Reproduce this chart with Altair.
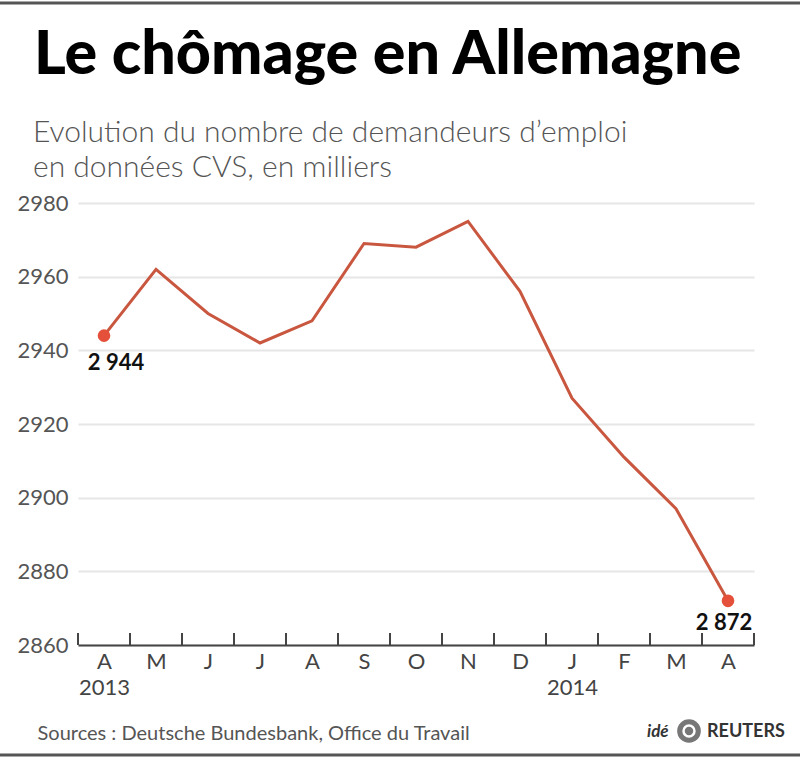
import json
import altair as alt
import pandas as pd

months = ["A", "M", "J", "J", "A", "S", "O", "N", "D", "J", "F", "M", "A"]
years = ["2013", "", "", "", "", "", "", "", "", "2014", "", "", ""]
values = [2944, 2962, 2950, 2942, 2948, 2969, 2968, 2975, 2956, 2927, 2911, 2897, 2872]
y_ticks = [2860, 2880, 2900, 2920, 2940, 2960, 2980]

title = "Le chômage en Allemagne"
subtitle = ["Evolution du nombre de demandeurs d\u2019emploi", "en données CVS, en milliers"]
source = "Sources : Deutsche Bundesbank, Office du Travail"

FONT = "Lato"
LINE = "#c9573f"
DOT = "#e4503a"

df = pd.DataFrame({"idx": list(range(len(months))), "month": months, "value": values})
df["label"] = [f"{v:,}".replace(",", " ") for v in values]
bounds = pd.DataFrame({"b": [i - 0.5 for i in range(len(months) + 1)]})

label_arr = [[m, y] if y else m for m, y in zip(months, years)]
label_expr = json.dumps(label_arr, ensure_ascii=False) + "[datum.value]"

x_scale = alt.Scale(domain=[-0.5, len(months) - 0.5], nice=False, zero=False)
x_axis = alt.Axis(
    values=list(range(len(months))), labelExpr=label_expr, ticks=False, grid=False,
    domain=True, domainColor="#444", domainWidth=2,
    labelFont=FONT, labelFontSize=22, labelColor="#444", labelPadding=6,
    labelLineHeight=26, labelFlush=False,
    title=source, titleFont=FONT, titleFontSize=20, titleFontWeight="normal",
    titleColor="#555", titleAnchor="start", titleAlign="left", titleX=-41, titleY=88,
    titleBaseline="middle",
)
y_scale = alt.Scale(domain=[2860, 2980], nice=False, zero=False)
y_axis = alt.Axis(
    values=y_ticks, format="d", domain=False, ticks=False, grid=True, gridColor="#e6e6e6",
    gridWidth=2, labelFont=FONT, labelFontSize=22, labelColor="#555",
    labelPadding=10, title=None,
)

base = alt.Chart(df)
X = alt.X("idx:Q", scale=x_scale, axis=x_axis)
Y = alt.Y("value:Q", scale=y_scale, axis=y_axis)

line = base.mark_line(color=LINE, strokeWidth=3).encode(x=X, y=Y)

last_i = len(months) - 1
dots = base.transform_filter(
    (alt.datum.idx == 0) | (alt.datum.idx == last_i)
).mark_circle(color=DOT, size=160, opacity=1).encode(x=X, y=Y)
first_lab = base.transform_filter(alt.datum.idx == 0).mark_text(
    font=FONT, fontSize=22, fontWeight="bold", color="#111", dx=12, dy=27,
    baseline="middle", align="center"
).encode(x=X, y=Y, text="label:N")
last_lab = base.transform_filter(alt.datum.idx == last_i).mark_text(
    font=FONT, fontSize=22, fontWeight="bold", color="#111", dx=-4, dy=22,
    baseline="middle", align="center"
).encode(x=X, y=Y, text="label:N")

ticks = alt.Chart(bounds).mark_rule(color="#444", strokeWidth=2).encode(
    x=alt.X("b:Q", scale=x_scale, axis=x_axis),
    y=alt.value(430), y2=alt.value(442),
)

one = pd.DataFrame({"t": [0]})
title_mark = alt.Chart(one).mark_text(
    text=title, font=FONT, fontSize=61, fontWeight=900, color="#000",
    align="left", baseline="alphabetic").encode(x=alt.value(-44), y=alt.value(-129))
sub1 = alt.Chart(one).mark_text(
    text=subtitle[0], font=FONT, fontSize=30, fontWeight=300, color="#555",
    align="left", baseline="alphabetic").encode(x=alt.value(-45), y=alt.value(-61))
sub2 = alt.Chart(one).mark_text(
    text=subtitle[1], font=FONT, fontSize=30, fontWeight=300, color="#555",
    align="left", baseline="alphabetic").encode(x=alt.value(-45), y=alt.value(-26))

top_border = alt.Chart(one).mark_rule(color="#555", strokeWidth=3).encode(
    x=alt.value(-78), x2=alt.value(722), y=alt.value(-200))
bot_border = alt.Chart(one).mark_rule(color="#555", strokeWidth=3).encode(
    x=alt.value(-78), x2=alt.value(722), y=alt.value(552))
ide = alt.Chart(one).mark_text(
    text="idé", font=FONT, fontSize=17, fontWeight="bold", fontStyle="italic",
    color="#333", align="left", baseline="middle").encode(
    x=alt.value(569), y=alt.value(529))
logo_outer = alt.Chart(one).mark_point(
    shape="circle", filled=True, color="#777", size=560, opacity=1).encode(
    x=alt.value(611), y=alt.value(528))
logo_inner = alt.Chart(one).mark_point(
    shape="circle", filled=False, color="#fff", size=120, strokeWidth=2.5, opacity=1).encode(
    x=alt.value(611), y=alt.value(528))
reuters = alt.Chart(one).mark_text(
    text="REUTERS", font=FONT, fontSize=18, fontWeight="bold",
    color="#333", align="left", baseline="middle").encode(
    x=alt.value(629), y=alt.value(529))

chart = alt.layer(
    line, ticks, dots, first_lab, last_lab, title_mark, sub1, sub2,
    top_border, bot_border, ide, logo_outer, logo_inner, reuters,
).properties(
    width=676, height=442,
    autosize=alt.AutoSizeParams(type="none"),
    padding={"left": 78, "top": 203, "right": 46, "bottom": 117},
).configure(background="white").configure_view(strokeWidth=0)

chart.save("out.html", embed_options={"renderer": "svg", "actions": False})
